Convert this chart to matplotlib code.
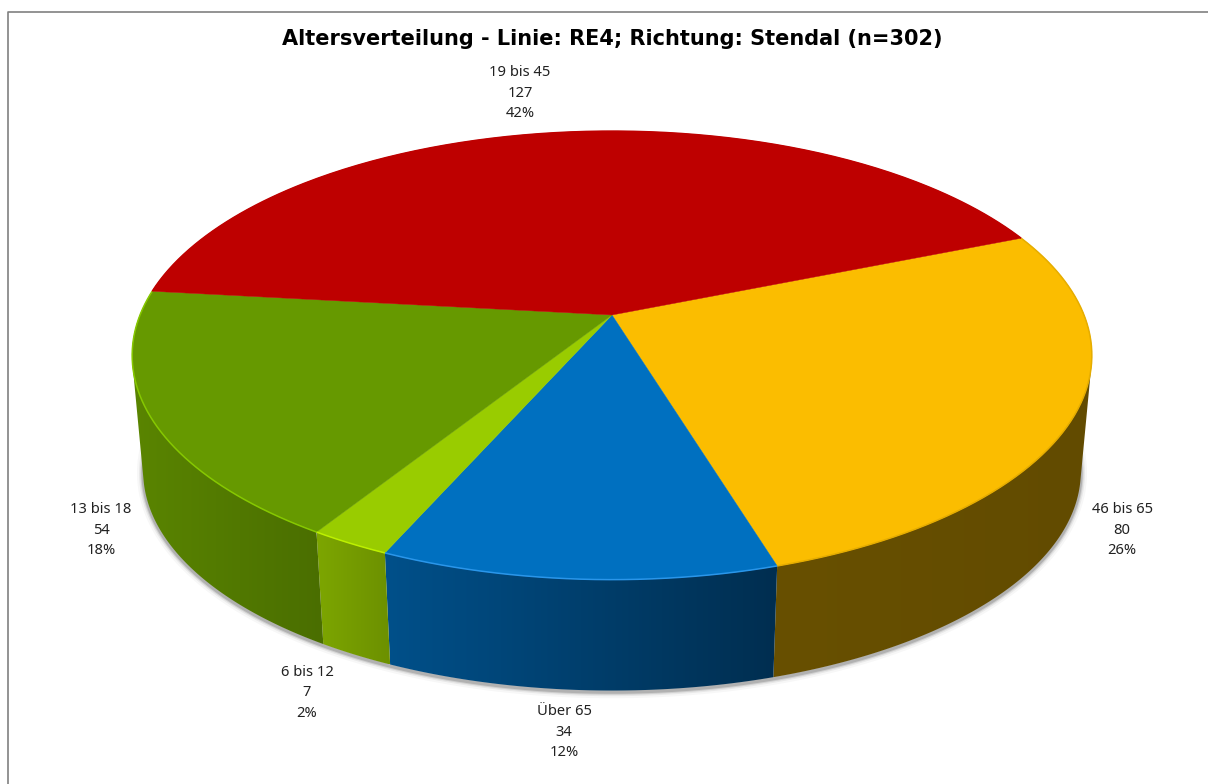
import numpy as np
import matplotlib
matplotlib.use('Agg')
import matplotlib.pyplot as plt
from matplotlib.patches import Polygon

titel = "Altersverteilung - Linie: RE4; Richtung: Stendal (n=302)"

# im Uhrzeigersinn, beginnend bei 46 bis 65
kategorien = ["46 bis 65", "Über 65", "6 bis 12", "13 bis 18", "19 bis 45"]
werte = [80, 34, 7, 54, 127]
prozent = ["26%", "12%", "2%", "18%", "42%"]

farben = ['#FBBD00', '#0070C0', '#99CC00', '#669900', '#BE0000']
rand_farben = ['#E6AD00', '#2A96EA', '#BDF000', '#86C800', '#BE0000']
seite_links = ['#685000', '#00508A', '#7DA600', '#5A8500', '#BE0000']
seite_rechts = ['#624B00', '#002E50', '#6C9000', '#4A6E00', '#BE0000']
label_pos = [(1122, 530), (564, 732), (307, 693), (101, 530), (520, 93)]

START = 67.8
CX, CY = 612, 315
A, B, K = 472, 217, 0.18
TIEFE = 117
SCHRUMPF = 0.977


def rim(theta, unten=False):
    t = np.radians(theta)
    n = 1 + K * np.cos(t)
    x = A * np.sin(t) / n
    y = -B * np.cos(t) / n
    if unten:
        return CX + x * SCHRUMPF, CY + y * SCHRUMPF + TIEFE
    return CX + x, CY + y


def huelle(punkte):
    # konvexe huelle, sonst kreuzt sich der clip-pfad an der silhouette
    p = sorted(map(tuple, punkte))
    def kette(liste):
        out = []
        for q in liste:
            while len(out) > 1 and ((out[-1][0] - out[-2][0]) * (q[1] - out[-2][1])
                                    - (out[-1][1] - out[-2][1]) * (q[0] - out[-2][0])) <= 0:
                out.pop()
            out.append(q)
        return out[:-1]
    return np.array(kette(p) + kette(p[::-1]))


fig = plt.figure(figsize=(12.08, 7.84), dpi=100)
ax = fig.add_axes([0, 0, 1, 1])
ax.axis('off')

# rahmen
ax.plot([7.5, 7.5, 1215], [790, 11.5, 11.5], color='#808080', lw=1.2, zorder=1)

# schatten
th = np.linspace(88, 272, 400)
sx, sy = rim(th, True)
for lw, al in [(9, 0.03), (6, 0.06), (4, 0.10), (2.5, 0.15)]:
    ax.plot(sx, sy + 1.5, color='black', lw=lw, alpha=al, zorder=2, solid_capstyle='butt')

winkel = START + np.concatenate([[0], np.cumsum(werte)]) * 360 / sum(werte)

# seitenflaechen, verlauf von links nach rechts
for i in range(len(werte)):
    a, b = winkel[i], winkel[i + 1]
    if a >= 272:
        continue
    a = max(a, 88)
    b = min(b, 272)
    t = np.linspace(a, b, 200)
    x0, y0 = rim(t)
    x1, y1 = rim(t, True)
    pts = huelle(np.vstack([np.column_stack([x0, y0]), np.column_stack([x1, y1])]))
    c1 = np.array(matplotlib.colors.to_rgb(seite_links[i]))
    c2 = np.array(matplotlib.colors.to_rgb(seite_rechts[i]))
    verlauf = np.linspace(0, 1, 256)[:, None]
    bild = (c1[None, :] + (c2 - c1)[None, :] * verlauf)[None, :, :]
    im = ax.imshow(bild, extent=[pts[:, 0].min(), pts[:, 0].max(), pts[:, 1].max(), pts[:, 1].min()],
                   aspect='auto', zorder=3, interpolation='bilinear')
    clip = Polygon(pts, closed=True, fc='none', ec='none', transform=ax.transData)
    ax.add_patch(clip)
    im.set_clip_path(clip)

# deckflaeche
for i in range(len(werte)):
    t = np.linspace(winkel[i], winkel[i + 1], 200)
    x, y = rim(t)
    pts = np.vstack([[CX, CY], np.column_stack([x, y])])
    ax.add_patch(Polygon(pts, closed=True, fc=farben[i], ec=farben[i], lw=0.3, zorder=4))
    ax.plot(x, y, color=rand_farben[i], lw=1.1, zorder=5, solid_capstyle='butt')

ax.set_xlim(0, 1208)
ax.set_ylim(784, 0)

ax.text(612, 38.5, titel, ha='center', va='center', fontsize=15, fontweight='bold',
        family='DejaVu Sans', color='black', zorder=6)

for i in range(len(werte)):
    txt = f"{kategorien[i]}\n{werte[i]}\n{prozent[i]}"
    ax.text(label_pos[i][0], label_pos[i][1], txt, ha='center', va='center', fontsize=10.6,
            family='Noto Sans', color='#222222', linespacing=1.5, zorder=6)

fig.savefig('out.png', dpi=100, facecolor='white')
